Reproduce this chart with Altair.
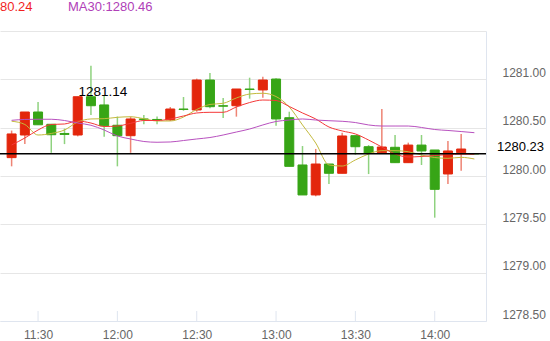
import altair as alt
import pandas as pd

# ---------------- data ----------------
times = ["11:20", "11:25", "11:30", "11:35", "11:40", "11:45", "11:50", "11:55",
         "12:00", "12:05", "12:10", "12:15", "12:20", "12:25", "12:30", "12:35",
         "12:40", "12:45", "12:50", "12:55", "13:00", "13:05", "13:10", "13:15",
         "13:20", "13:25", "13:30", "13:35", "13:40", "13:45", "13:50", "13:55",
         "14:00", "14:05", "14:10", "14:15"]
opens = [1280.19, 1280.424, 1280.662, 1280.535, 1280.44, 1280.424, 1280.82, 1280.735,
         1280.525, 1280.417, 1280.59, 1280.585, 1280.58, 1280.693, 1280.683, 1280.993,
         1280.727, 1280.727, 1280.90, 1280.89, 1281.003, 1280.603, 1280.114, 1279.804,
         1280.124, 1280.028, 1280.417, 1280.303, 1280.24, 1280.297, 1280.138, 1280.32,
         1280.269, 1280.021, 1280.241, 1280.23]
highs = [1280.47, 1280.662, 1280.765, 1280.535, 1280.49, 1280.82, 1281.14, 1280.835,
         1280.615, 1280.615, 1280.63, 1280.615, 1280.714, 1280.817, 1281.007, 1281.065,
         1280.807, 1280.90, 1281.017, 1281.027, 1281.01, 1280.665, 1280.31, 1280.28,
         1280.124, 1280.448, 1280.417, 1280.32, 1280.693, 1280.424, 1280.345, 1280.424,
         1280.269, 1280.362, 1280.435, 1280.23]
lows = [1280.10, 1280.33, 1280.53, 1280.24, 1280.33, 1280.41, 1280.63, 1280.407,
        1280.10, 1280.24, 1280.535, 1280.535, 1280.569, 1280.675, 1280.665, 1280.70,
        1280.60, 1280.614, 1280.80, 1280.81, 1280.52, 1280.10, 1279.804, 1279.79,
        1279.917, 1280.028, 1280.22, 1280.02, 1280.24, 1280.138, 1280.138, 1280.114,
        1279.569, 1279.917, 1280.055, 1280.23]
closes = [1280.435, 1280.662, 1280.53, 1280.427, 1280.43, 1280.82, 1280.727, 1280.52,
          1280.417, 1280.59, 1280.585, 1280.58, 1280.693, 1280.688, 1280.993, 1280.717,
          1280.722, 1280.90, 1280.895, 1280.993, 1280.59, 1280.10, 1279.804, 1280.124,
          1280.028, 1280.414, 1280.303, 1280.235, 1280.30, 1280.138, 1280.32, 1280.259,
          1279.862, 1280.259, 1280.279, 1280.23]
ma5 = [1280.567, 1280.533, 1280.424, 1280.44, 1280.476, 1280.559, 1280.59, 1280.593,
       1280.607, 1280.613, 1280.593, 1280.569, 1280.569, 1280.61, 1280.688, 1280.74,
       1280.752, 1280.807, 1280.848, 1280.856, 1280.822, 1280.714, 1280.528, 1280.341,
       1280.114, 1280.103, 1280.166, 1280.228, 1280.262, 1280.262, 1280.251, 1280.217,
       1280.191, 1280.183, 1280.193, 1280.176]
ma10 = [1280.321, 1280.393, 1280.476, 1280.533, 1280.538, 1280.569, 1280.548, 1280.512,
        1280.517, 1280.545, 1280.574, 1280.574, 1280.59, 1280.621, 1280.652, 1280.659,
        1280.659, 1280.714, 1280.76, 1280.786, 1280.781, 1280.719, 1280.652, 1280.59,
        1280.507, 1280.466, 1280.435, 1280.372, 1280.30, 1280.228, 1280.197, 1280.202,
        1280.212, 1280.222, 1280.226, 1280.225]
ma30 = [1280.576, 1280.585, 1280.587, 1280.587, 1280.574, 1280.548, 1280.525, 1280.476,
        1280.414, 1280.383, 1280.357, 1280.349, 1280.352, 1280.367, 1280.383, 1280.398,
        1280.424, 1280.455, 1280.486, 1280.528, 1280.564, 1280.579, 1280.59, 1280.579,
        1280.572, 1280.566, 1280.553, 1280.528, 1280.517, 1280.517, 1280.517, 1280.502,
        1280.481, 1280.471, 1280.46, 1280.448]

y_ticks = [1278.5, 1279.0, 1279.5, 1280.0, 1280.5, 1281.0, 1281.5]
x_ticks = ["11:30", "12:00", "12:30", "13:00", "13:30", "14:00"]
x_domain = ["11:17:30", "14:17:30"]
last_price = 1280.23
high_time = "11:50"
high_value = 1281.14
legend_ma10 = "80.24"
legend_ma30 = "MA30:1280.46"

UP = "#e3260c"
DOWN = "#37a516"
UP_WICK = "#ee8474"
DOWN_WICK = "#8fd27f"
MA_COLORS = {"MA5": "#c3b93c", "MA10": "#f53838", "MA30": "#b851bf"}
AXIS_C = "#dfe5ef"
FONT = "Liberation Sans"


def to_min(t):
    parts = [int(p) for p in t.split(":")]
    return parts[0] * 60 + parts[1] + (parts[2] / 60 if len(parts) > 2 else 0)


df = pd.DataFrame({"time": times, "open": opens, "high": highs, "low": lows,
                   "close": closes, "MA5": ma5, "MA10": ma10, "MA30": ma30})
df["t"] = df["time"].map(to_min)

xs = alt.Scale(domain=[to_min(x_domain[0]), to_min(x_domain[1])], nice=False, zero=False)
ys = alt.Scale(domain=[y_ticks[0], y_ticks[-1]], nice=False, zero=False)

x_axis = alt.Axis(values=[to_min(t) for t in x_ticks],
                  labelExpr="floor(datum.value/60) + ':' + (datum.value % 60 < 10 ? '0' : '') + (datum.value % 60)",
                  grid=False, ticks=False, domainColor=AXIS_C, domainWidth=1,
                  labelColor="#666666", labelFont=FONT, labelFontSize=12,
                  labelPadding=8, title=None)
y_axis = alt.Axis(values=y_ticks, orient="right",
                  labelExpr="datum.value >= 1281.5 ? '' : format(datum.value, '.2f')",
                  grid=True, gridColor="#e6e6e6", ticks=False,
                  domainColor=AXIS_C, labelColor="#666666", labelFont=FONT,
                  labelFontSize=12, labelPadding=16, labelBaseline="bottom",
                  labelAlign="left", title=None)


def X(field):
    return alt.X(field, scale=xs, title=None)


def Y(field):
    return alt.Y(field, scale=ys, title=None)


base = alt.Chart(df)
is_up = "datum.close > datum.open"

wicks = base.mark_rule(strokeWidth=1.5).encode(
    x=alt.X("t:Q", scale=xs, axis=x_axis),
    y=alt.Y("low:Q", scale=ys, axis=y_axis),
    y2="high:Q",
    color=alt.condition(is_up, alt.value(UP_WICK), alt.value(DOWN_WICK)),
)

bodies = base.mark_bar(size=9, strokeWidth=1).encode(
    x=X("t:Q"), y=Y("open:Q"), y2="close:Q",
    color=alt.condition(is_up, alt.value(UP), alt.value(DOWN)),
    stroke=alt.condition(is_up, alt.value(UP), alt.value(DOWN)),
)

ma_layers = [
    base.mark_line(strokeWidth=1, interpolate="monotone", color=col).encode(
        x=X("t:Q"), y=Y(f"{name}:Q"))
    for name, col in MA_COLORS.items()
]

last_df = pd.DataFrame({"v": [last_price], "label": [f"{last_price:.2f}"]})
last_line = alt.Chart(last_df).mark_rule(color="#000000", strokeWidth=1.3).encode(y=Y("v:Q"))
last_text = alt.Chart(last_df).mark_text(align="right", baseline="alphabetic", dy=-3,
                                         fontSize=13, font=FONT, color="#000000").encode(
    x=alt.value(544), y=Y("v:Q"), text="label:N")

high_df = pd.DataFrame({"t": [to_min(high_time)], "v": [high_value], "label": [f"{high_value:.2f}"]})
high_text = alt.Chart(high_df).mark_text(align="center", baseline="middle", dx=12, dy=26,
                                         fontSize=13.5, font=FONT, color="#000000").encode(
    x=X("t:Q"), y=Y("v:Q"), text="label:N")

tick_df = pd.DataFrame({"t": [to_min(t) for t in x_ticks]})
tick_marks = alt.Chart(tick_df).mark_rule(color=AXIS_C, strokeWidth=1).encode(
    x=X("t:Q"), y=alt.value(280), y2=alt.value(290))

leg1 = alt.Chart(pd.DataFrame({"label": [legend_ma10]})).mark_text(
    align="left", baseline="middle", fontSize=13, font=FONT, color="#f21f1f").encode(
    x=alt.value(0), y=alt.value(-24), text="label:N")
leg2 = alt.Chart(pd.DataFrame({"label": [legend_ma30]})).mark_text(
    align="left", baseline="middle", fontSize=13, font=FONT, color="#b040b8").encode(
    x=alt.value(68), y=alt.value(-24), text="label:N")

chart = alt.layer(wicks, bodies, *ma_layers, last_line, last_text, high_text, tick_marks, leg1, leg2).properties(
    width=486, height=290,
    padding={"left": 0, "top": 31, "right": 64, "bottom": 20},
    autosize="none",
    background="#ffffff",
).configure_view(strokeWidth=0)

chart.save("out.html", embed_options={"renderer": "svg", "actions": False})
